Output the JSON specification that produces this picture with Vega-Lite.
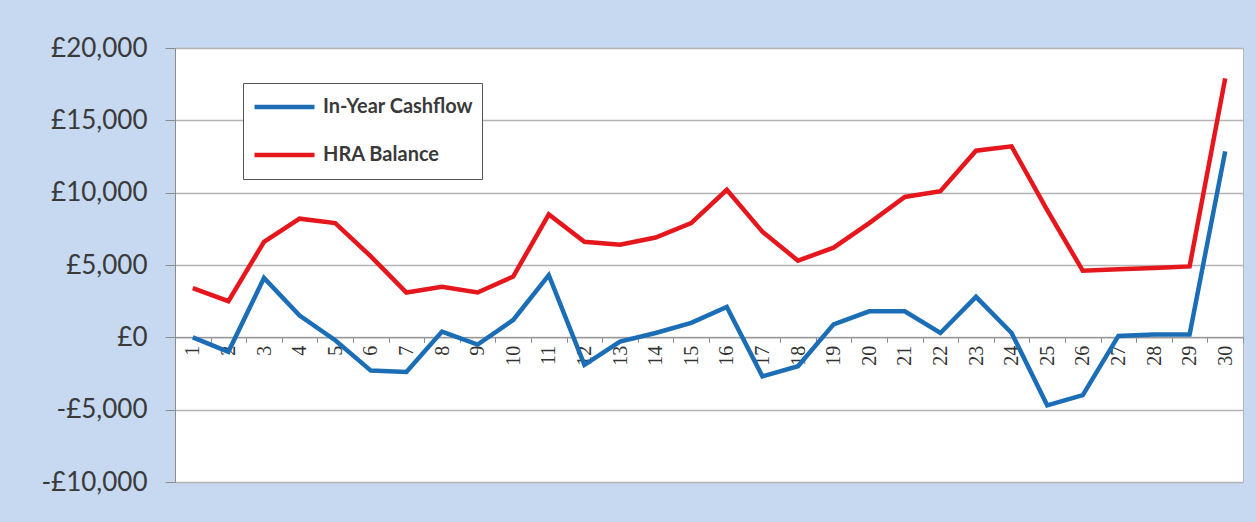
{
  "$schema": "https://vega.github.io/schema/vega-lite/v6.json",
  "width": 1068,
  "height": 434,
  "autosize": {"type": "none"},
  "padding": {"left": 175, "top": 48, "right": 13, "bottom": 40},
  "background": "#c6d9f1",
  "config": {
    "view": {"fill": "white", "stroke": "#b8b8b8", "strokeWidth": 1},
    "font": "Lato"
  },
  "data": {
    "values": [
      {"year": 1, "series": "In-Year Cashflow", "value": 0},
      {"year": 2, "series": "In-Year Cashflow", "value": -1000},
      {"year": 3, "series": "In-Year Cashflow", "value": 4100},
      {"year": 4, "series": "In-Year Cashflow", "value": 1500},
      {"year": 5, "series": "In-Year Cashflow", "value": -200},
      {"year": 6, "series": "In-Year Cashflow", "value": -2300},
      {"year": 7, "series": "In-Year Cashflow", "value": -2400},
      {"year": 8, "series": "In-Year Cashflow", "value": 400},
      {"year": 9, "series": "In-Year Cashflow", "value": -500},
      {"year": 10, "series": "In-Year Cashflow", "value": 1200},
      {"year": 11, "series": "In-Year Cashflow", "value": 4300},
      {"year": 12, "series": "In-Year Cashflow", "value": -1900},
      {"year": 13, "series": "In-Year Cashflow", "value": -300},
      {"year": 14, "series": "In-Year Cashflow", "value": 300},
      {"year": 15, "series": "In-Year Cashflow", "value": 1000},
      {"year": 16, "series": "In-Year Cashflow", "value": 2100},
      {"year": 17, "series": "In-Year Cashflow", "value": -2700},
      {"year": 18, "series": "In-Year Cashflow", "value": -2000},
      {"year": 19, "series": "In-Year Cashflow", "value": 900},
      {"year": 20, "series": "In-Year Cashflow", "value": 1800},
      {"year": 21, "series": "In-Year Cashflow", "value": 1800},
      {"year": 22, "series": "In-Year Cashflow", "value": 300},
      {"year": 23, "series": "In-Year Cashflow", "value": 2800},
      {"year": 24, "series": "In-Year Cashflow", "value": 300},
      {"year": 25, "series": "In-Year Cashflow", "value": -4700},
      {"year": 26, "series": "In-Year Cashflow", "value": -4000},
      {"year": 27, "series": "In-Year Cashflow", "value": 100},
      {"year": 28, "series": "In-Year Cashflow", "value": 200},
      {"year": 29, "series": "In-Year Cashflow", "value": 200},
      {"year": 30, "series": "In-Year Cashflow", "value": 12850},
      {"year": 1, "series": "HRA Balance", "value": 3400},
      {"year": 2, "series": "HRA Balance", "value": 2500},
      {"year": 3, "series": "HRA Balance", "value": 6600},
      {"year": 4, "series": "HRA Balance", "value": 8200},
      {"year": 5, "series": "HRA Balance", "value": 7900},
      {"year": 6, "series": "HRA Balance", "value": 5600},
      {"year": 7, "series": "HRA Balance", "value": 3100},
      {"year": 8, "series": "HRA Balance", "value": 3500},
      {"year": 9, "series": "HRA Balance", "value": 3100},
      {"year": 10, "series": "HRA Balance", "value": 4200},
      {"year": 11, "series": "HRA Balance", "value": 8500},
      {"year": 12, "series": "HRA Balance", "value": 6600},
      {"year": 13, "series": "HRA Balance", "value": 6400},
      {"year": 14, "series": "HRA Balance", "value": 6900},
      {"year": 15, "series": "HRA Balance", "value": 7900},
      {"year": 16, "series": "HRA Balance", "value": 10200},
      {"year": 17, "series": "HRA Balance", "value": 7300},
      {"year": 18, "series": "HRA Balance", "value": 5300},
      {"year": 19, "series": "HRA Balance", "value": 6200},
      {"year": 20, "series": "HRA Balance", "value": 7900},
      {"year": 21, "series": "HRA Balance", "value": 9700},
      {"year": 22, "series": "HRA Balance", "value": 10100},
      {"year": 23, "series": "HRA Balance", "value": 12900},
      {"year": 24, "series": "HRA Balance", "value": 13200},
      {"year": 25, "series": "HRA Balance", "value": 8800},
      {"year": 26, "series": "HRA Balance", "value": 4600},
      {"year": 27, "series": "HRA Balance", "value": 4700},
      {"year": 28, "series": "HRA Balance", "value": 4800},
      {"year": 29, "series": "HRA Balance", "value": 4900},
      {"year": 30, "series": "HRA Balance", "value": 17900}
    ]
  },
  "mark": {"type": "line", "strokeWidth": 4.5},
  "encoding": {
    "x": {
      "field": "year",
      "type": "ordinal",
      "bandPosition": 0.5,
      "scale": {"type": "band", "paddingInner": 0, "paddingOuter": 0},
      "axis": {
        "orient": "bottom",
        "offset": -144.7,
        "title": null,
        "labelAngle": -90,
        "labelAlign": "right",
        "labelBaseline": "middle",
        "tickBand": "extent",
        "tickSize": 5,
        "tickColor": "#8c8c8c",
        "domainColor": "#8c8c8c",
        "labelFont": "Liberation Serif",
        "labelFontSize": 20,
        "labelColor": "#333333",
        "labelPadding": 3,
        "grid": false
      }
    },
    "y": {
      "field": "value",
      "type": "quantitative",
      "scale": {"domain": [-10000, 20000], "nice": false, "zero": false},
      "axis": {
        "title": null,
        "values": [-10000, -5000, 0, 5000, 10000, 15000, 20000],
        "labelExpr": "datum.value < 0 ? '-£' + format(-datum.value, ',') : '£' + format(datum.value, ',')",
        "tickSize": 10,
        "labelPadding": 18,
        "labelFont": "Lato",
        "labelFontSize": 26,
        "labelColor": "#3a3a3a",
        "tickColor": "#8c8c8c",
        "domainColor": "#8c8c8c",
        "gridColor": "#b4b4b4",
        "gridWidth": 1.5
      }
    },
    "color": {
      "field": "series",
      "type": "nominal",
      "scale": {
        "domain": ["In-Year Cashflow", "HRA Balance"],
        "range": ["#1b6eb6", "#e6161d"]
      },
      "legend": {
        "orient": "none",
        "legendX": 68,
        "legendY": 35,
        "title": null,
        "symbolType": "stroke",
        "symbolSize": 3600,
        "symbolStrokeWidth": 4.5,
        "clipHeight": 30,
        "rowPadding": 18,
        "padding": 9,
        "strokeColor": "#555555",
        "fillColor": "white",
        "labelFont": "Lato",
        "labelFontSize": 20,
        "labelFontWeight": "bold",
        "labelColor": "#3a3a3a",
        "labelOffset": 6
      }
    }
  }
}
